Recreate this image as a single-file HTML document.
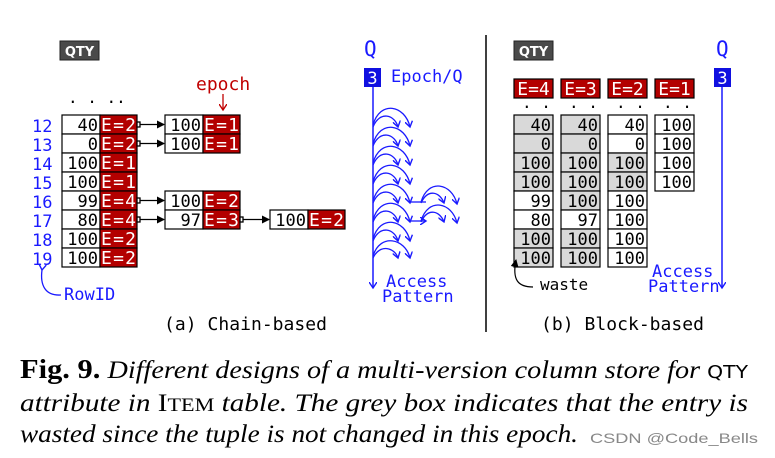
<!DOCTYPE html>
<html><head><meta charset="utf-8"><style>
html,body{margin:0;padding:0;background:#fff;width:775px;height:458px;overflow:hidden}
svg{display:block}
.m{font-family:"DejaVu Sans Mono","Liberation Mono",monospace;font-size:16px}
.b{fill:#1a1aff}
</style></head><body>
<svg width="775" height="458" viewBox="0 0 775 458" xmlns="http://www.w3.org/2000/svg">
<defs>
<marker id="ah" markerWidth="8" markerHeight="8" refX="7" refY="4" orient="auto" markerUnits="userSpaceOnUse"><path d="M0,0 L8,4 L0,8 z" fill="#000"/></marker>
<marker id="bh" markerWidth="8" markerHeight="8" refX="6" refY="4" orient="auto" markerUnits="userSpaceOnUse"><path d="M0,0 L6,4 L0,8" fill="none" stroke="#1a1aff" stroke-width="1.4"/></marker>
<marker id="rh" markerWidth="8" markerHeight="8" refX="6" refY="4" orient="auto" markerUnits="userSpaceOnUse"><path d="M0,0 L6,4 L0,8" fill="none" stroke="#c00000" stroke-width="1.4"/></marker>
</defs>
<rect x="60" y="41" width="39" height="19" fill="#4a4a4a" stroke="#222"/>
<text x="79.5" y="56" text-anchor="middle" font-family="DejaVu Sans,sans-serif" font-weight="bold" font-size="13" fill="#fff">QTY</text>
<rect x="514" y="41" width="39" height="19" fill="#4a4a4a" stroke="#222"/>
<text x="533.5" y="56" text-anchor="middle" font-family="DejaVu Sans,sans-serif" font-weight="bold" font-size="13" fill="#fff">QTY</text>

<g class="m b" style="font-size:17px">
<text x="32" y="132">12</text><text x="32" y="151">13</text><text x="32" y="170">14</text><text x="32" y="189">15</text>
<text x="32" y="208">16</text><text x="32" y="227">17</text><text x="32" y="246">18</text><text x="32" y="265">19</text>
<text x="64" y="300">RowID</text>
</g>
<path d="M42,270 C40,285 45,296 61,295" fill="none" stroke="#1a1aff" stroke-width="1.3" marker-start="url(#bh)"/>
<text x="68" y="103" class="m">.  .  ..</text>
<text x="196" y="90" class="m" fill="#c00000" style="font-size:18px">epoch</text>
<line x1="223" y1="94" x2="223" y2="110" stroke="#c00000" stroke-width="1.3" marker-end="url(#rh)"/>

<g class="m" style="font-size:17px">
<g stroke="#000" stroke-width="1.2">
<rect x="62" y="115" width="38" height="19" fill="#fff"/><rect x="100" y="115" width="37" height="19" fill="#b30000"/>
<rect x="62" y="134" width="38" height="19" fill="#fff"/><rect x="100" y="134" width="37" height="19" fill="#b30000"/>
<rect x="62" y="153" width="38" height="19" fill="#fff"/><rect x="100" y="153" width="37" height="19" fill="#b30000"/>
<rect x="62" y="172" width="38" height="19" fill="#fff"/><rect x="100" y="172" width="37" height="19" fill="#b30000"/>
<rect x="62" y="191" width="38" height="19" fill="#fff"/><rect x="100" y="191" width="37" height="19" fill="#b30000"/>
<rect x="62" y="210" width="38" height="19" fill="#fff"/><rect x="100" y="210" width="37" height="19" fill="#b30000"/>
<rect x="62" y="229" width="38" height="19" fill="#fff"/><rect x="100" y="229" width="37" height="19" fill="#b30000"/>
<rect x="62" y="248" width="38" height="19" fill="#fff"/><rect x="100" y="248" width="37" height="19" fill="#b30000"/>
<rect x="165" y="115" width="38" height="19" fill="#fff"/><rect x="203" y="115" width="37" height="19" fill="#b30000"/>
<rect x="165" y="134" width="38" height="19" fill="#fff"/><rect x="203" y="134" width="37" height="19" fill="#b30000"/>
<rect x="165" y="191" width="38" height="19" fill="#fff"/><rect x="203" y="191" width="37" height="19" fill="#b30000"/>
<rect x="165" y="210" width="38" height="19" fill="#fff"/><rect x="203" y="210" width="37" height="19" fill="#b30000"/>
<rect x="270" y="210" width="38" height="19" fill="#fff"/><rect x="308" y="210" width="37" height="19" fill="#b30000"/>
</g>
<g text-anchor="end">
<text x="98" y="131">40</text><text x="98" y="150">0</text><text x="98" y="169">100</text><text x="98" y="188">100</text>
<text x="98" y="207">99</text><text x="98" y="226">80</text><text x="98" y="245">100</text><text x="98" y="264">100</text>
<text x="201" y="131">100</text><text x="201" y="150">100</text><text x="201" y="207">100</text><text x="201" y="226">97</text><text x="306" y="226">100</text>
</g>
<g fill="#fff" style="font-size:18px">
<text x="101" y="131" textLength="35">E=2</text><text x="101" y="150" textLength="35">E=2</text><text x="101" y="169" textLength="35">E=1</text><text x="101" y="188" textLength="35">E=1</text>
<text x="101" y="207" textLength="35">E=4</text><text x="101" y="226" textLength="35">E=4</text><text x="101" y="245" textLength="35">E=2</text><text x="101" y="264" textLength="35">E=2</text>
<text x="204" y="131" textLength="35">E=1</text><text x="204" y="150" textLength="35">E=1</text><text x="204" y="207" textLength="35">E=2</text><text x="204" y="226" textLength="35">E=3</text><text x="309" y="226" textLength="35">E=2</text>
</g>
</g>
<g stroke="#000" stroke-width="1.3" fill="#fff">
<rect x="137" y="122" width="3" height="5"/><line x1="140" y1="124.5" x2="164" y2="124.5" marker-end="url(#ah)"/>
<rect x="137" y="141" width="3" height="5"/><line x1="140" y1="143.5" x2="164" y2="143.5" marker-end="url(#ah)"/>
<rect x="137" y="198" width="3" height="5"/><line x1="140" y1="200.5" x2="164" y2="200.5" marker-end="url(#ah)"/>
<rect x="137" y="217" width="3" height="5"/><line x1="140" y1="219.5" x2="164" y2="219.5" marker-end="url(#ah)"/>
<rect x="240" y="217" width="3" height="5"/><line x1="243" y1="219.5" x2="269" y2="219.5" marker-end="url(#ah)"/>
</g>
<text x="164" y="330" class="m" style="font-size:18px" textLength="163">(a) Chain-based</text>

<text x="364" y="56" class="m b" style="font-size:21px">Q</text>
<rect x="364" y="68" width="17" height="19" fill="#1010e0"/>
<text x="372.5" y="84" text-anchor="middle" class="m" fill="#fff" style="font-size:17px">3</text>
<text x="391" y="82" class="m b" style="font-size:17px">Epoch/Q</text>
<line x1="373" y1="87" x2="373" y2="288" stroke="#1a1aff" stroke-width="1.5" marker-end="url(#bh)"/>
<g fill="none" stroke="#1a1aff" stroke-width="1.3">
<path d="M373,125 C380,100 405,105 410,127" marker-end="url(#bh)"/>
<path d="M373,127 C380,110 395,115 398,127" marker-end="url(#bh)"/>
<path d="M373,144 C380,119 405,124 410,146" marker-end="url(#bh)"/>
<path d="M373,146 C380,129 395,134 398,146" marker-end="url(#bh)"/>
<path d="M373,163 C380,138 405,143 410,165" marker-end="url(#bh)"/>
<path d="M373,165 C380,148 395,153 398,165" marker-end="url(#bh)"/>
<path d="M373,182 C380,157 405,162 410,184" marker-end="url(#bh)"/>
<path d="M373,184 C380,167 395,172 398,184" marker-end="url(#bh)"/>
<path d="M373,201 C380,176 405,181 410,203" marker-end="url(#bh)"/>
<path d="M373,203 C380,186 395,191 398,203" marker-end="url(#bh)"/>
<path d="M373,220 C380,195 405,200 410,222" marker-end="url(#bh)"/>
<path d="M373,222 C380,205 395,210 398,222" marker-end="url(#bh)"/>
<path d="M373,239 C380,214 405,219 410,241" marker-end="url(#bh)"/>
<path d="M373,241 C380,224 395,229 398,241" marker-end="url(#bh)"/>
<path d="M373,256 C380,233 405,238 410,258" marker-end="url(#bh)"/>
<path d="M373,258 C380,243 395,248 398,258" marker-end="url(#bh)"/>
<line x1="410" y1="202" x2="426" y2="202"/>
<line x1="410" y1="221" x2="426" y2="221" marker-end="url(#bh)"/>
<path d="M421,202 C428,178 452,183 457,204" marker-end="url(#bh)"/>
<path d="M421,203 C428,188 440,192 444,203" marker-end="url(#bh)"/>
<path d="M421,221 C428,197 452,202 457,223" marker-end="url(#bh)"/>
<path d="M421,222 C428,207 440,211 444,222" marker-end="url(#bh)"/>
</g>
<text x="386" y="287" class="m b" style="font-size:17px">Access</text>
<text x="382" y="302" class="m b" style="font-size:17px">Pattern</text>

<line x1="486" y1="35" x2="486" y2="332" stroke="#000" stroke-width="1.5"/>

<g stroke="#000" stroke-width="1.2" fill="#b30000">
<rect x="514" y="79" width="39" height="19"/><rect x="561" y="79" width="39" height="19"/><rect x="608" y="79" width="39" height="19"/><rect x="655" y="79" width="39" height="19"/>
</g>
<g class="m" fill="#fff" style="font-size:18px" text-anchor="middle">
<text x="533.5" y="95">E=4</text><text x="580.5" y="95">E=3</text><text x="627.5" y="95">E=2</text><text x="674.5" y="95">E=1</text>
</g>
<g class="m" style="font-size:16px">
<text x="522" y="108">.  .</text><text x="569" y="108">.  .</text><text x="616" y="108">.  .</text><text x="663" y="108">.  .</text>
</g>
<g stroke="#000" stroke-width="1.2">
<g fill="#d9d9d9"><rect x="514" y="115" width="39" height="19"/><rect x="514" y="134" width="39" height="19"/><rect x="514" y="153" width="39" height="19"/><rect x="514" y="172" width="39" height="19"/></g>
<g fill="#fff"><rect x="514" y="191" width="39" height="19"/><rect x="514" y="210" width="39" height="19"/></g>
<g fill="#d9d9d9"><rect x="514" y="229" width="39" height="19"/><rect x="514" y="248" width="39" height="19"/></g>
<g fill="#d9d9d9"><rect x="561" y="115" width="39" height="19"/><rect x="561" y="134" width="39" height="19"/><rect x="561" y="153" width="39" height="19"/><rect x="561" y="172" width="39" height="19"/><rect x="561" y="191" width="39" height="19"/></g>
<rect x="561" y="210" width="39" height="19" fill="#fff"/>
<g fill="#d9d9d9"><rect x="561" y="229" width="39" height="19"/><rect x="561" y="248" width="39" height="19"/></g>
<g fill="#fff"><rect x="608" y="115" width="39" height="19"/><rect x="608" y="134" width="39" height="19"/></g>
<g fill="#d9d9d9"><rect x="608" y="153" width="39" height="19"/><rect x="608" y="172" width="39" height="19"/></g>
<g fill="#fff"><rect x="608" y="191" width="39" height="19"/><rect x="608" y="210" width="39" height="19"/><rect x="608" y="229" width="39" height="19"/><rect x="608" y="248" width="39" height="19"/>
<rect x="655" y="115" width="39" height="19"/><rect x="655" y="134" width="39" height="19"/><rect x="655" y="153" width="39" height="19"/><rect x="655" y="172" width="39" height="19"/></g>
</g>
<g class="m" text-anchor="end" style="font-size:17px">
<text x="551" y="131">40</text><text x="551" y="150">0</text><text x="551" y="169">100</text><text x="551" y="188">100</text><text x="551" y="207">99</text><text x="551" y="226">80</text><text x="551" y="245">100</text><text x="551" y="264">100</text>
<text x="598" y="131">40</text><text x="598" y="150">0</text><text x="598" y="169">100</text><text x="598" y="188">100</text><text x="598" y="207">100</text><text x="598" y="226">97</text><text x="598" y="245">100</text><text x="598" y="264">100</text>
<text x="645" y="131">40</text><text x="645" y="150">0</text><text x="645" y="169">100</text><text x="645" y="188">100</text><text x="645" y="207">100</text><text x="645" y="226">100</text><text x="645" y="245">100</text><text x="645" y="264">100</text>
<text x="692" y="131">100</text><text x="692" y="150">100</text><text x="692" y="169">100</text><text x="692" y="188">100</text>
</g>
<path d="M533,287 C518,287 512,280 516,260" fill="none" stroke="#000" stroke-width="1.2" marker-end="url(#ah)"/>
<text x="540" y="290" class="m" style="font-size:16px">waste</text>
<text x="716" y="56" class="m b" style="font-size:21px">Q</text>
<rect x="714" y="68" width="17" height="19" fill="#1010e0"/>
<text x="722.5" y="84" text-anchor="middle" class="m" fill="#fff" style="font-size:17px">3</text>
<line x1="722" y1="87" x2="722" y2="288" stroke="#1a1aff" stroke-width="1.5" marker-end="url(#bh)"/>
<text x="652" y="277" class="m b" style="font-size:17px">Access</text>
<text x="648" y="292" class="m b" style="font-size:17px">Pattern</text>
<text x="541" y="330" class="m" style="font-size:18px" textLength="163">(b) Block-based</text>

<g font-family="Liberation Serif,serif" font-size="25">
<text x="20" y="378" textLength="728" lengthAdjust="spacingAndGlyphs"><tspan font-weight="bold" font-size="27">Fig. 9.</tspan><tspan font-style="italic"> Different designs of a multi-version column store for </tspan><tspan font-family="DejaVu Sans,sans-serif" font-size="18">QTY</tspan></text>
<text x="20" y="411" textLength="728" lengthAdjust="spacingAndGlyphs"><tspan font-style="italic">attribute in </tspan>I<tspan font-size="19">TEM</tspan><tspan font-style="italic"> table. The grey box indicates that the entry is</tspan></text>
<text x="20" y="442" textLength="558" lengthAdjust="spacingAndGlyphs" font-style="italic">wasted since the tuple is not changed in this epoch.</text>
</g>
<text x="590" y="443" font-family="Liberation Sans,sans-serif" font-size="14" fill="#888" textLength="168" lengthAdjust="spacingAndGlyphs">CSDN @Code_Bells</text>
</svg>
</body></html>
